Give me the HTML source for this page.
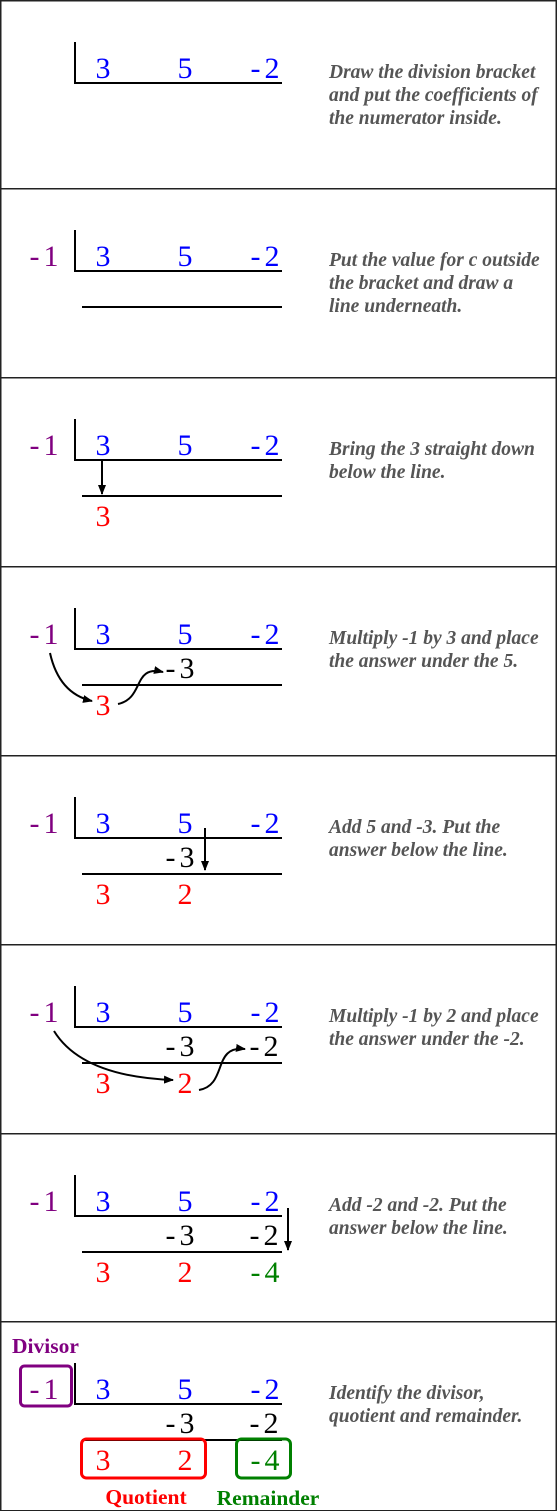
<!DOCTYPE html>
<html><head><meta charset="utf-8"><style>
html,body{margin:0;padding:0;background:#fff}
svg{display:block}
.n{font-family:"Liberation Serif",serif;font-size:30px;text-anchor:middle}
.t{font-family:"Liberation Serif",serif;font-size:19.5px;font-weight:bold;font-style:italic;fill:#555}
.lab{font-family:"Liberation Serif",serif;font-size:21.5px;font-weight:bold}
.b{fill:none;stroke:#000;stroke-width:2}
.a{fill:none;stroke:#000;stroke-width:2}
</style></head><body>
<svg width="557" height="1511" viewBox="0 0 557 1511" xmlns="http://www.w3.org/2000/svg">
<defs><marker id="ah" markerWidth="10" markerHeight="8" refX="9" refY="4" orient="auto" markerUnits="userSpaceOnUse"><path d="M0,0 L10,4 L0,8 z" fill="#000"/></marker></defs>
<g id="root"></g>
</svg>
<script>
const root=document.getElementById('root');
const NS='http://www.w3.org/2000/svg';
const tops=[0,188,377,566,755,944,1133,1321];
const texts=[
["Draw the division bracket","and put the coefficients of","the numerator inside."],
["Put the value for c outside","the bracket and draw a","line underneath."],
["Bring the 3 straight down","below the line."],
["Multiply -1 by 3 and place","the answer under the 5."],
["Add 5 and -3.  Put the","answer below the line."],
["Multiply -1 by 2 and place","the answer under the -2."],
["Add -2 and -2.  Put the","answer below the line."],
["Identify the divisor,","quotient and remainder."]];
function el(tag,attrs,parent){const e=document.createElementNS(NS,tag);for(const k in attrs)e.setAttribute(k,attrs[k]);(parent||root).appendChild(e);return e;}
function txt(x,y,s,cls,fill,parent,anchor){const e=el('text',{x:x,y:y,class:cls,fill:fill},parent);if(anchor)e.setAttribute('text-anchor',anchor);e.textContent=s;if(cls==='n'&&s.length>1)e.setAttribute('letter-spacing','4');return e;}
tops.forEach((o,i)=>{
 const g=el('g',{});
 
 
 el('rect',{x:0.75,y:o+0.75,width:555.5,height:(i<7?tops[i+1]:1510)-o,fill:'none',stroke:'#222','stroke-width':1.5},g);
 el('path',{d:`M75,${o+42} V${o+83} H282`,class:'b'},g);
 txt(103,o+78,'3','n','#0000ff',g);txt(185,o+78,'5','n','#0000ff',g);txt(267,o+78,'-2','n','#0000ff',g);
 if(i>=1) txt(46,o+78,'-1','n','#800080',g);
 if(i>=1) el('line',{x1:82,y1:o+119,x2:282,y2:o+119,stroke:'#000','stroke-width':2},g);
 if(i>=2) txt(103,o+149,'3','n','#ff0000',g);
 if(i>=3) txt(182,o+112,'-3','n','#000',g);
 if(i>=4) txt(185,o+149,'2','n','#ff0000',g);
 if(i>=5) txt(266,o+112,'-2','n','#000',g);
 if(i>=6) txt(267,o+149,'-4','n','#008000',g);
 const tg=el('g',{},g);
 
 
 texts[i].forEach((s,j)=>txt(329,o+78+j*23,s,'t','#555',tg));
});
el('line',{x1:102,y1:461,x2:102,y2:494,class:'a','marker-end':'url(#ah)'});
el('path',{d:'M50,653 C56,680 70,696 92,701',class:'a','marker-end':'url(#ah)'});
el('path',{d:'M118,704 C145,698 132,665 163,672',class:'a','marker-end':'url(#ah)'});
el('line',{x1:205,y1:828,x2:205,y2:870,class:'a','marker-end':'url(#ah)'});
el('path',{d:'M54,1031 C75,1065 120,1078 173,1080',class:'a','marker-end':'url(#ah)'});
el('path',{d:'M199,1090 C228,1085 212,1045 245,1049',class:'a','marker-end':'url(#ah)'});
el('line',{x1:288,y1:1208,x2:288,y2:1250,class:'a','marker-end':'url(#ah)'});
const b1=el('rect',{x:20.5,y:1366,width:51,height:40,rx:4,fill:'none',stroke:'#800080','stroke-width':3});


const b2=el('rect',{x:81.5,y:1439,width:124,height:39,rx:5,fill:'none',stroke:'#ff0000','stroke-width':3});


const b3=el('rect',{x:236.5,y:1439,width:54,height:39,rx:5,fill:'none',stroke:'#008000','stroke-width':3});


txt(12,1353,'Divisor','lab','#800080',null);
txt(146,1504,'Quotient','lab','#ff0000',null,'middle');
txt(268,1505,'Remainder','lab','#008000',null,'middle');
</script>
</body></html>
